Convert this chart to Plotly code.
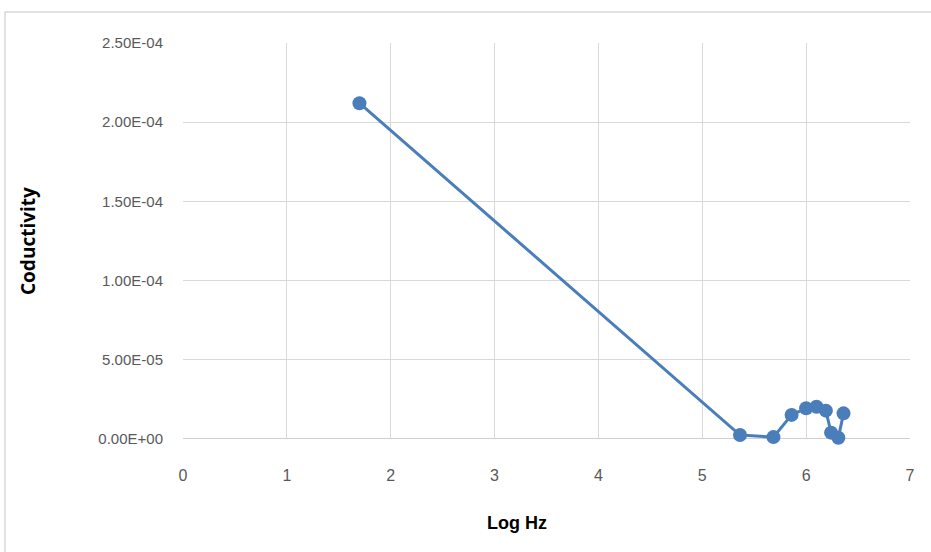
import plotly.graph_objects as go

log_hz = [1.699, 5.363, 5.685, 5.86, 6.0, 6.10, 6.19, 6.24, 6.31, 6.36]
conductivity = [2.12e-4, 2.5e-6, 1.2e-6, 1.52e-5, 1.94e-5, 2.04e-5, 1.79e-5, 4.0e-6, 8e-7, 1.62e-5]

y_ticks = [0, 5e-5, 1e-4, 1.5e-4, 2e-4, 2.5e-4]
y_tick_text = ["0.00E+00", "5.00E-05", "1.00E-04", "1.50E-04", "2.00E-04", "2.50E-04"]
x_ticks = [0, 1, 2, 3, 4, 5, 6, 7]

color = "#4a7ebb"
font_family = "Liberation Sans, Arial, sans-serif"

fig = go.Figure()
fig.add_trace(go.Scatter(
    x=log_hz, y=conductivity, mode="lines+markers",
    line=dict(color=color, width=3),
    marker=dict(color=color, size=14),
    cliponaxis=False,
    showlegend=False,
))

fig.update_layout(
    width=931, height=552,
    margin=dict(l=183, r=21, t=43, b=113),
    paper_bgcolor="white", plot_bgcolor="white",
    font=dict(family=font_family, color="#595959", size=15),
    xaxis=dict(
        range=[0, 7], tickvals=x_ticks,
        showgrid=True, gridcolor="#d9d9d9", gridwidth=1,
        zeroline=False, showline=False,
        ticks="outside", ticklen=22, tickcolor="rgba(0,0,0,0)",
        tickfont=dict(size=16, color="#595959"),
    ),
    yaxis=dict(
        range=[0, 2.5e-4], tickvals=y_ticks, ticktext=y_tick_text,
        showgrid=True, gridcolor="#d9d9d9", gridwidth=1,
        zeroline=False, showline=False,
        ticks="outside", ticklen=16, tickcolor="rgba(0,0,0,0)",
        tickfont=dict(size=15, color="#595959"),
    ),
    annotations=[
        dict(text="<b>Coductivity</b>", xref="paper", yref="paper",
             x=-0.2132, y=0.5, textangle=-90, showarrow=False,
             xanchor="center", yanchor="middle",
             font=dict(family="Open Sans, sans-serif", size=19, color="#000000")),
        dict(text="<b>Log Hz</b>", xref="paper", yref="paper",
             x=0.4594, y=-0.2121, showarrow=False,
             xanchor="center", yanchor="middle",
             font=dict(family=font_family, size=18, color="#000000")),
    ],
    shapes=[
        dict(type="line", xref="paper", yref="y", x0=0, x1=1, y0=0, y1=0,
             line=dict(color="#bfbfbf", width=1.5), layer="below"),
        dict(type="rect", xref="paper", yref="paper", x0=-0.2448, x1=1.05, y0=-0.4, y1=1.078,
             line=dict(color="#d9d9d9", width=1.5), layer="below"),
    ],
)

fig.write_html("out.html")
